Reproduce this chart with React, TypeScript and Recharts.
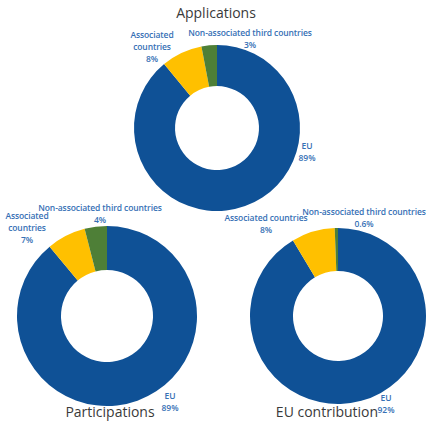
import * as React from "react";
import { PieChart, Pie, Cell } from "recharts";

const categories = ["EU", "Associated countries", "Non-associated third countries"];
const applications = [89, 8, 3];
const participations = [89, 7, 4];
const euContribution = [92, 8, 0.6];
const applicationsLabels = ["89%", "8%", "3%"];
const participationsLabels = ["89%", "7%", "4%"];
const euContributionLabels = ["92%", "8%", "0.6%"];
const titles = ["Applications", "Participations", "EU contribution"];

const COLORS = ["#0F5196", "#FFC000", "#4E7F37"];
const LABEL = "#3670B5";
const FONT = "'Open Sans', 'Liberation Sans', sans-serif";

const toRows = (vals: number[]) => categories.map((name, i) => ({ name, value: vals[i] }));

type Lbl = { x: number; y: number; lines: string[] };

function Label({ x, y, lines }: Lbl) {
  return (
    <div
      style={{
        position: "absolute",
        left: x - 100,
        top: y,
        width: 200,
        textAlign: "center",
        color: LABEL,
        fontFamily: FONT,
        fontWeight: 600,
        fontSize: 8.5,
        lineHeight: "12px",
        letterSpacing: -0.1,
      }}
    >
      {lines.map((l, i) => (
        <div key={i}>{l}</div>
      ))}
    </div>
  );
}

function Title({ x, y, text }: { x: number; y: number; text: string }) {
  return (
    <div
      style={{
        position: "absolute",
        left: x - 100,
        top: y,
        width: 200,
        textAlign: "center",
        color: "#3a3a3a",
        fontFamily: FONT,
        fontSize: 14,
        lineHeight: "18px",
      }}
    >
      {text}
    </div>
  );
}

export default function App() {
  const pies = [
    { data: toRows(applications), cx: 217, cy: 128, inner: 42, outer: 83 },
    { data: toRows(participations), cx: 107, cy: 316, inner: 46, outer: 90 },
    { data: toRows(euContribution), cx: 338, cy: 316, inner: 45, outer: 88 },
  ];
  const labels: Lbl[] = [
    { x: 152, y: 29, lines: ["Associated", "countries", applicationsLabels[1]] },
    { x: 250, y: 27, lines: ["Non-associated third countries", applicationsLabels[2]] },
    { x: 307, y: 140, lines: ["EU", applicationsLabels[0]] },
    { x: 27, y: 210, lines: ["Associated", "countries", participationsLabels[1]] },
    { x: 100, y: 202, lines: ["Non-associated third countries", participationsLabels[2]] },
    { x: 170, y: 390, lines: ["EU", participationsLabels[0]] },
    { x: 266, y: 212, lines: ["Associated countries", euContributionLabels[1]] },
    { x: 364, y: 206, lines: ["Non-associated third countries", euContributionLabels[2]] },
    { x: 386, y: 392, lines: ["EU", euContributionLabels[0]] },
  ];
  return (
    <div style={{ position: "absolute", left: 0, top: 0, width: 426, height: 423, background: "#fff" }}>
      <div style={{ position: "absolute", left: 0, top: 0, width: 426, height: 423 }}>
        <PieChart width={426} height={423} margin={{ top: 0, right: 0, bottom: 0, left: 0 }}>
          {pies.map((p, k) => (
            <Pie
              key={k}
              data={p.data}
              dataKey="value"
              nameKey="name"
              cx={p.cx}
              cy={p.cy}
              innerRadius={p.inner}
              outerRadius={p.outer}
              startAngle={90}
              endAngle={-270}
              stroke="none"
              isAnimationActive={false}
            >
              {p.data.map((_, i) => (
                <Cell key={i} fill={COLORS[i]} />
              ))}
            </Pie>
          ))}
        </PieChart>
      </div>
      <Title x={216} y={4} text={titles[0]} />
      <Title x={110} y={403} text={titles[1]} />
      <Title x={327} y={403} text={titles[2]} />
      {labels.map((l, i) => (
        <Label key={i} {...l} />
      ))}
    </div>
  );
}
